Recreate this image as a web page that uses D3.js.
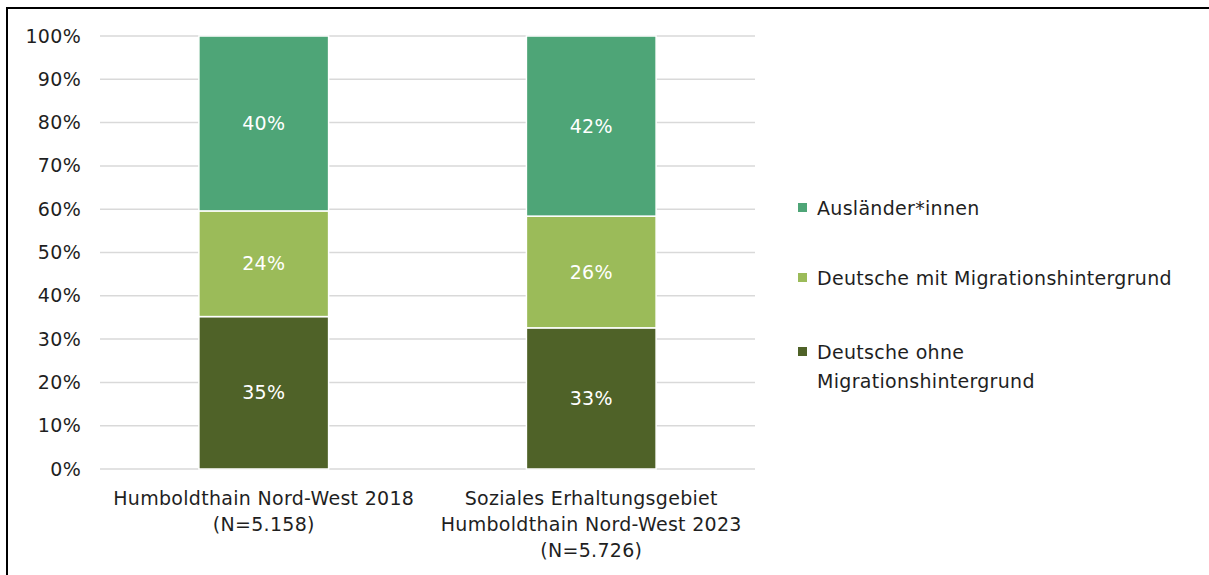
<!DOCTYPE html>
<html>
<head>
<meta charset="utf-8">
<script src="https://cdn.jsdelivr.net/npm/d3@7"></script>
<style>
  html, body { margin: 0; padding: 0; background: #fff; }
  svg { display: block; font-family: "DejaVu Sans", sans-serif; }
  text { letter-spacing: 0.3px; }
</style>
</head>
<body>
<svg id="chart" width="1209" height="575"></svg>
<script>
// ---- data ----
const categories = [
  ["Humboldthain Nord-West 2018", "(N=5.158)"],
  ["Soziales Erhaltungsgebiet", "Humboldthain Nord-West 2023", "(N=5.726)"]
];
const seriesNames = ["Deutsche ohne Migrationshintergrund", "Deutsche mit Migrationshintergrund", "Ausländer*innen"];
const deutscheOhne = [35.2, 32.6];
const deutscheMit = [24.4, 25.8];
const auslaender = [40.4, 41.6];
const yTicks = [0, 10, 20, 30, 40, 50, 60, 70, 80, 90, 100];
const legendLabels = [["Ausländer*innen"], ["Deutsche mit Migrationshintergrund"], ["Deutsche ohne", "Migrationshintergrund"]];

const colors = { "Deutsche ohne Migrationshintergrund": "#4f6228", "Deutsche mit Migrationshintergrund": "#9bbb59", "Ausländer*innen": "#4ea577" };
const legendColors = ["#4ea577", "#9bbb59", "#4f6228"];

const svg = d3.select("#chart");
const FS = 19;

// frame
svg.append("rect").attr("x", 7).attr("y", 8).attr("width", 1400).attr("height", 800)
  .attr("fill", "none").attr("stroke", "#000").attr("stroke-width", 2);

const plot = { left: 100, right: 755, top: 36, bottom: 469 };

const x = d3.scaleBand().domain(d3.range(categories.length))
  .range([plot.left, plot.right]).paddingInner(0.604).paddingOuter(0.302);
const y = d3.scaleLinear().domain([0, 100]).range([plot.bottom, plot.top]);

// gridlines
svg.append("g").selectAll("line").data(yTicks).join("line")
  .attr("x1", plot.left).attr("x2", plot.right)
  .attr("y1", d => y(d)).attr("y2", d => y(d))
  .attr("stroke", "#d9d9d9").attr("stroke-width", 1.5);

// y axis labels
const yAxis = d3.axisLeft(y).tickValues(yTicks).tickFormat(d => d + "%").tickSize(0).tickPadding(0);
const gy = svg.append("g").attr("transform", `translate(81,0)`).call(yAxis);
gy.select(".domain").remove();
gy.selectAll("text").attr("font-size", FS).attr("fill", "#1f1f1f")
  .attr("font-family", "DejaVu Sans, sans-serif");

// stack
const rows = categories.map((c, i) => ({
  i,
  "Deutsche ohne Migrationshintergrund": deutscheOhne[i],
  "Deutsche mit Migrationshintergrund": deutscheMit[i],
  "Ausländer*innen": auslaender[i]
}));
const stacked = d3.stack().keys(seriesNames)(rows);

const gBars = svg.append("g");
stacked.forEach(layer => {
  const g = gBars.append("g");
  g.selectAll("rect").data(layer).join("rect")
    .attr("x", d => x(d.data.i))
    .attr("width", x.bandwidth())
    .attr("y", d => y(d[1]))
    .attr("height", d => y(d[0]) - y(d[1]))
    .attr("fill", colors[layer.key])
    .attr("stroke", "#fff").attr("stroke-width", 1.5);
  g.selectAll("text").data(layer).join("text")
    .attr("x", d => x(d.data.i) + x.bandwidth() / 2)
    .attr("y", d => (y(d[0]) + y(d[1])) / 2)
    .attr("dy", "0.35em")
    .attr("text-anchor", "middle")
    .attr("font-size", FS)
    .attr("fill", "#fff")
    .text(d => Math.round(d[1] - d[0]) + "%");
});

// x axis labels
const gx = svg.append("g");
categories.forEach((lines, i) => {
  const t = gx.append("text")
    .attr("x", x(i) + x.bandwidth() / 2)
    .attr("y", 498)
    .attr("text-anchor", "middle")
    .attr("font-size", FS)
    .attr("fill", "#1f1f1f");
  lines.forEach((ln, j) => {
    t.append("tspan").attr("x", x(i) + x.bandwidth() / 2)
      .attr("dy", j === 0 ? "0.35em" : 26).text(ln);
  });
});

// legend
const legendY = [208, 278, 352];
const gl = svg.append("g");
legendLabels.forEach((lines, k) => {
  gl.append("rect").attr("x", 798).attr("y", legendY[k] - 5).attr("width", 9).attr("height", 9)
    .attr("fill", legendColors[k]);
  const t = gl.append("text").attr("x", 817).attr("y", legendY[k])
    .attr("font-size", FS).attr("fill", "#1f1f1f");
  lines.forEach((ln, j) => {
    t.append("tspan").attr("x", 817).attr("dy", j === 0 ? "0.35em" : 29).text(ln);
  });
});
</script>
</body>
</html>
